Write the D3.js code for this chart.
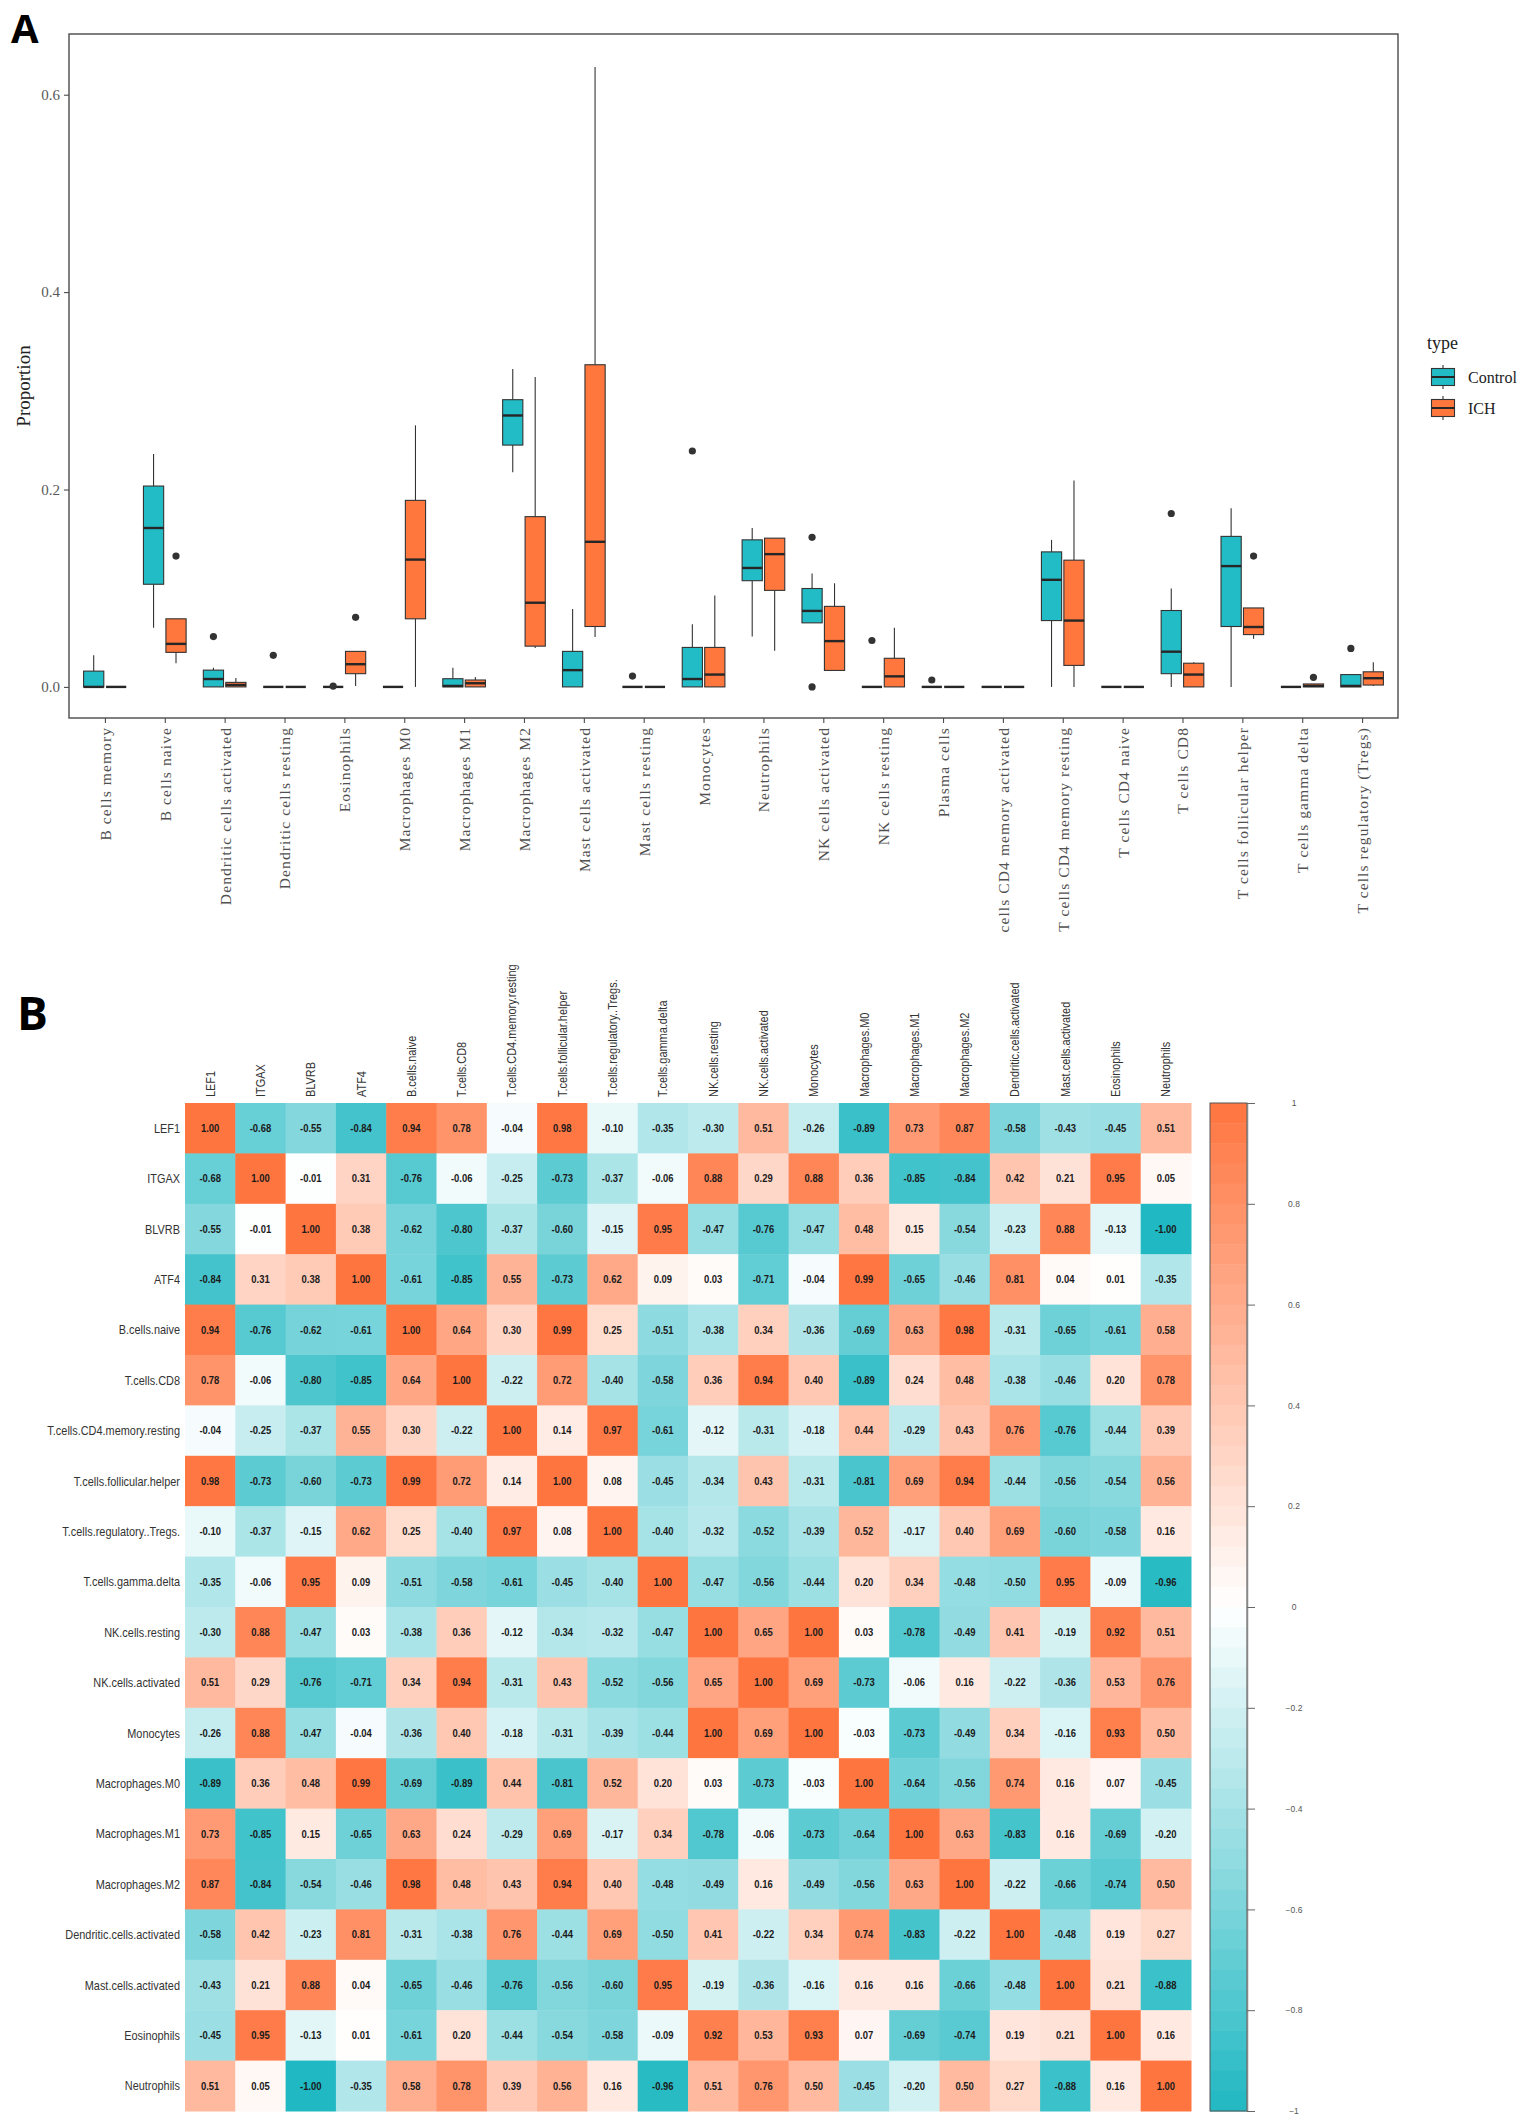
<!DOCTYPE html>
<html>
<head>
<meta charset="utf-8">
<script src="https://cdn.jsdelivr.net/npm/d3@7/dist/d3.min.js"></script>
<style>
  html, body { margin: 0; padding: 0; background: #fff; }
  svg { display: block; }
</style>
</head>
<body>
<svg id="chart" width="1535" height="2127"></svg>
<script>
// ---------------- Panel A data ----------------
const categories = [
  "B cells memory", "B cells naive", "Dendritic cells activated", "Dendritic cells resting",
  "Eosinophils", "Macrophages M0", "Macrophages M1", "Macrophages M2",
  "Mast cells activated", "Mast cells resting", "Monocytes", "Neutrophils",
  "NK cells activated", "NK cells resting", "Plasma cells", "cells CD4 memory activated",
  "T cells CD4 memory resting", "T cells CD4 naive", "T cells CD8", "T cells follicular helper",
  "T cells gamma delta", "T cells regulatory (Tregs)"
];
const groups = ["Control", "ICH"];
const groupColors = ["#22BCC6", "#FF773D"];
// [lower whisker, Q1, median, Q3, upper whisker]
const controlStats = [
  [0, 0, 0, 0.016, 0.032],
  [0.060, 0.104, 0.161, 0.2035, 0.236],
  [0, 0, 0.008, 0.017, 0.0195],
  [0, 0, 0, 0, 0],
  [0, 0, 0, 0, 0],
  [0, 0, 0, 0, 0],
  [0, 0, 0.001, 0.0083, 0.0195],
  [0.2175, 0.245, 0.275, 0.291, 0.322],
  [0, 0, 0.017, 0.036, 0.079],
  [0, 0, 0, 0, 0],
  [0, 0, 0.008, 0.040, 0.0635],
  [0.051, 0.1076, 0.1205, 0.149, 0.161],
  [0.0649, 0.0649, 0.077, 0.0997, 0.115],
  [0, 0, 0, 0, 0],
  [0, 0, 0, 0, 0],
  [0, 0, 0, 0, 0],
  [0, 0.0672, 0.1085, 0.1368, 0.149],
  [0, 0, 0, 0, 0],
  [0, 0.0134, 0.0357, 0.0774, 0.0997],
  [0, 0.0612, 0.1224, 0.1525, 0.181],
  [0, 0, 0, 0, 0],
  [0, 0, 0.001, 0.0125, 0.0125]
];
const ichStats = [
  [0, 0, 0, 0, 0],
  [0.024, 0.035, 0.0436, 0.069, 0.069],
  [0, 0, 0.002, 0.0046, 0.009],
  [0, 0, 0, 0, 0],
  [0.001, 0.0134, 0.023, 0.036, 0.036],
  [0, 0.069, 0.129, 0.189, 0.265],
  [0, 0, 0.0037, 0.007, 0.010],
  [0.0394, 0.0413, 0.0853, 0.1725, 0.314],
  [0.0505, 0.0612, 0.147, 0.3264, 0.628],
  [0, 0, 0, 0, 0],
  [0, 0, 0.0125, 0.040, 0.0927],
  [0.0366, 0.0978, 0.1345, 0.1507, 0.1507],
  [0.0167, 0.0167, 0.0464, 0.0816, 0.105],
  [0, 0, 0.0107, 0.029, 0.060],
  [0, 0, 0, 0, 0],
  [0, 0, 0, 0, 0],
  [0, 0.0218, 0.0672, 0.1284, 0.209],
  [0, 0, 0, 0, 0],
  [0, 0, 0.0125, 0.024, 0.025],
  [0.0487, 0.053, 0.0607, 0.080, 0.080],
  [0, 0, 0.001, 0.003, 0.003],
  [0.001, 0.0019, 0.0088, 0.0153, 0.025]
];
const controlOutliers = [
  [], [], [0.051], [0.032], [0.0008], [], [], [], [], [0.011], [0.239], [],
  [0.1516, 0], [0.047], [0.007], [], [], [], [0.1757], [], [], [0.039]
];
const ichOutliers = [
  [], [0.1326], [], [], [0.0705], [], [], [], [], [], [], [],
  [], [], [], [], [], [], [], [0.1326], [0.0097], []
];
const yTicks = [0.0, 0.2, 0.4, 0.6];

// ---------------- Panel B data ----------------
const corrNames = [
  "LEF1", "ITGAX", "BLVRB", "ATF4", "B.cells.naive", "T.cells.CD8",
  "T.cells.CD4.memory.resting", "T.cells.follicular.helper", "T.cells.regulatory..Tregs.",
  "T.cells.gamma.delta", "NK.cells.resting", "NK.cells.activated", "Monocytes",
  "Macrophages.M0", "Macrophages.M1", "Macrophages.M2", "Dendritic.cells.activated",
  "Mast.cells.activated", "Eosinophils", "Neutrophils"
];
const corrValues = [
  [1.00, -0.68, -0.55, -0.84, 0.94, 0.78, -0.04, 0.98, -0.10, -0.35, -0.30, 0.51, -0.26, -0.89, 0.73, 0.87, -0.58, -0.43, -0.45, 0.51],
  [-0.68, 1.00, -0.01, 0.31, -0.76, -0.06, -0.25, -0.73, -0.37, -0.06, 0.88, 0.29, 0.88, 0.36, -0.85, -0.84, 0.42, 0.21, 0.95, 0.05],
  [-0.55, -0.01, 1.00, 0.38, -0.62, -0.80, -0.37, -0.60, -0.15, 0.95, -0.47, -0.76, -0.47, 0.48, 0.15, -0.54, -0.23, 0.88, -0.13, -1.00],
  [-0.84, 0.31, 0.38, 1.00, -0.61, -0.85, 0.55, -0.73, 0.62, 0.09, 0.03, -0.71, -0.04, 0.99, -0.65, -0.46, 0.81, 0.04, 0.01, -0.35],
  [0.94, -0.76, -0.62, -0.61, 1.00, 0.64, 0.30, 0.99, 0.25, -0.51, -0.38, 0.34, -0.36, -0.69, 0.63, 0.98, -0.31, -0.65, -0.61, 0.58],
  [0.78, -0.06, -0.80, -0.85, 0.64, 1.00, -0.22, 0.72, -0.40, -0.58, 0.36, 0.94, 0.40, -0.89, 0.24, 0.48, -0.38, -0.46, 0.20, 0.78],
  [-0.04, -0.25, -0.37, 0.55, 0.30, -0.22, 1.00, 0.14, 0.97, -0.61, -0.12, -0.31, -0.18, 0.44, -0.29, 0.43, 0.76, -0.76, -0.44, 0.39],
  [0.98, -0.73, -0.60, -0.73, 0.99, 0.72, 0.14, 1.00, 0.08, -0.45, -0.34, 0.43, -0.31, -0.81, 0.69, 0.94, -0.44, -0.56, -0.54, 0.56],
  [-0.10, -0.37, -0.15, 0.62, 0.25, -0.40, 0.97, 0.08, 1.00, -0.40, -0.32, -0.52, -0.39, 0.52, -0.17, 0.40, 0.69, -0.60, -0.58, 0.16],
  [-0.35, -0.06, 0.95, 0.09, -0.51, -0.58, -0.61, -0.45, -0.40, 1.00, -0.47, -0.56, -0.44, 0.20, 0.34, -0.48, -0.50, 0.95, -0.09, -0.96],
  [-0.30, 0.88, -0.47, 0.03, -0.38, 0.36, -0.12, -0.34, -0.32, -0.47, 1.00, 0.65, 1.00, 0.03, -0.78, -0.49, 0.41, -0.19, 0.92, 0.51],
  [0.51, 0.29, -0.76, -0.71, 0.34, 0.94, -0.31, 0.43, -0.52, -0.56, 0.65, 1.00, 0.69, -0.73, -0.06, 0.16, -0.22, -0.36, 0.53, 0.76],
  [-0.26, 0.88, -0.47, -0.04, -0.36, 0.40, -0.18, -0.31, -0.39, -0.44, 1.00, 0.69, 1.00, -0.03, -0.73, -0.49, 0.34, -0.16, 0.93, 0.50],
  [-0.89, 0.36, 0.48, 0.99, -0.69, -0.89, 0.44, -0.81, 0.52, 0.20, 0.03, -0.73, -0.03, 1.00, -0.64, -0.56, 0.74, 0.16, 0.07, -0.45],
  [0.73, -0.85, 0.15, -0.65, 0.63, 0.24, -0.29, 0.69, -0.17, 0.34, -0.78, -0.06, -0.73, -0.64, 1.00, 0.63, -0.83, 0.16, -0.69, -0.20],
  [0.87, -0.84, -0.54, -0.46, 0.98, 0.48, 0.43, 0.94, 0.40, -0.48, -0.49, 0.16, -0.49, -0.56, 0.63, 1.00, -0.22, -0.66, -0.74, 0.50],
  [-0.58, 0.42, -0.23, 0.81, -0.31, -0.38, 0.76, -0.44, 0.69, -0.50, 0.41, -0.22, 0.34, 0.74, -0.83, -0.22, 1.00, -0.48, 0.19, 0.27],
  [-0.43, 0.21, 0.88, 0.04, -0.65, -0.46, -0.76, -0.56, -0.60, 0.95, -0.19, -0.36, -0.16, 0.16, 0.16, -0.66, -0.48, 1.00, 0.21, -0.88],
  [-0.45, 0.95, -0.13, 0.01, -0.61, 0.20, -0.44, -0.54, -0.58, -0.09, 0.92, 0.53, 0.93, 0.07, -0.69, -0.74, 0.19, 0.21, 1.00, 0.16],
  [0.51, 0.05, -1.00, -0.35, 0.58, 0.78, 0.39, 0.56, 0.16, -0.96, 0.51, 0.76, 0.50, -0.45, -0.20, 0.50, 0.27, -0.88, 0.16, 1.00]
];
const colorbarTicks = [1, 0.8, 0.6, 0.4, 0.2, 0, -0.2, -0.4, -0.6, -0.8, -1];
const colorStops = ["#20B8C2", "#FFFFFF", "#FF7540"];

// ---------------- Drawing ----------------
const svg = d3.select("#chart");
const SERIF = "'Liberation Serif','Times New Roman',serif";
const SANS = "'Liberation Sans',Arial,Helvetica,sans-serif";

// Panel letters
svg.append("text").attr("x", 11).attr("y", 43)
  .style("font-family", "'Open Sans',sans-serif").style("font-weight", 700)
  .style("font-size", "40px").text("A");
svg.append("text").attr("x", 17).attr("y", 1030)
  .style("font-family", "'Open Sans',sans-serif").style("font-weight", 700)
  .style("font-size", "46px").text("B");

// ---- Panel A: boxplots ----
const pA = { left: 69, right: 1398, top: 34, bottom: 718 };
const x = d3.scalePoint().domain(categories).range([pA.left, pA.right]).padding(0.6);
const y = d3.scaleLinear().domain([-0.0315, 0.6615]).range([pA.bottom, pA.top]);
const step = x.step();
const boxW = step * 0.375 * 0.9;
const dodge = step * 0.1875;

const gA = svg.append("g");
gA.append("rect").attr("x", pA.left).attr("y", pA.top)
  .attr("width", pA.right - pA.left).attr("height", pA.bottom - pA.top)
  .attr("fill", "#fff").attr("stroke", "#4a4a4a").attr("stroke-width", 1.4);

// y axis
const yAxis = gA.append("g").attr("transform", `translate(${pA.left},0)`)
  .call(d3.axisLeft(y).tickValues(yTicks).tickSize(5).tickSizeOuter(0).tickFormat(d3.format(".1f")));
yAxis.select(".domain").remove();
yAxis.selectAll("line").attr("stroke", "#4a4a4a").attr("stroke-width", 1.1);
yAxis.selectAll("text").attr("x", -9)
  .style("font-family", SERIF).style("font-size", "15px").attr("fill", "#595959");

gA.append("text")
  .attr("transform", `translate(30,${(pA.top + pA.bottom) / 2 + 10}) rotate(-90)`)
  .attr("text-anchor", "middle")
  .style("font-family", SERIF).style("font-size", "19px").attr("fill", "#222")
  .text("Proportion");

// x axis
const xAxis = gA.append("g").attr("transform", `translate(0,${pA.bottom})`)
  .call(d3.axisBottom(x).tickSize(5).tickSizeOuter(0));
xAxis.select(".domain").remove();
xAxis.selectAll("line").attr("stroke", "#4a4a4a").attr("stroke-width", 1.1);
xAxis.selectAll("text")
  .attr("transform", "rotate(-90)")
  .attr("x", -9).attr("y", 0).attr("dy", "0.35em")
  .attr("text-anchor", "end")
  .style("font-family", SERIF).style("font-size", "15.5px")
  .style("letter-spacing", "1.1px").attr("fill", "#505050");

// boxes
const statsByGroup = [controlStats, ichStats];
const outByGroup = [controlOutliers, ichOutliers];
const boxData = [];
categories.forEach((c, i) => {
  groups.forEach((g, gi) => {
    const s = statsByGroup[gi][i];
    boxData.push({ cat: c, gi, lo: s[0], q1: s[1], med: s[2], q3: s[3], hi: s[4], out: outByGroup[gi][i] });
  });
});
const boxes = gA.append("g").selectAll("g").data(boxData).join("g")
  .attr("transform", d => `translate(${x(d.cat) + (d.gi === 0 ? -dodge : dodge)},0)`);
boxes.append("line").attr("x1", 0).attr("x2", 0)
  .attr("y1", d => y(d.hi)).attr("y2", d => y(d.q3))
  .attr("stroke", "#333").attr("stroke-width", 1.1);
boxes.append("line").attr("x1", 0).attr("x2", 0)
  .attr("y1", d => y(d.q1)).attr("y2", d => y(d.lo))
  .attr("stroke", "#333").attr("stroke-width", 1.1);
boxes.append("rect")
  .attr("x", -boxW / 2).attr("width", boxW)
  .attr("y", d => y(d.q3)).attr("height", d => y(d.q1) - y(d.q3))
  .attr("fill", d => groupColors[d.gi]).attr("stroke", "#333").attr("stroke-width", 1.1);
boxes.append("line")
  .attr("x1", -boxW / 2).attr("x2", boxW / 2)
  .attr("y1", d => y(d.med)).attr("y2", d => y(d.med))
  .attr("stroke", "#262626").attr("stroke-width", 2.4);
boxes.selectAll("circle").data(d => d.out).join("circle")
  .attr("cx", 0).attr("cy", v => y(v)).attr("r", 3.6).attr("fill", "#333");

// legend
const leg = gA.append("g").attr("transform", "translate(1427,0)");
leg.append("text").attr("x", 0).attr("y", 349)
  .style("font-family", SERIF).style("font-size", "18px").attr("fill", "#222").text("type");
groups.forEach((g, gi) => {
  const cy = 377 + gi * 31;
  const k = leg.append("g").attr("transform", `translate(16,${cy})`);
  k.append("line").attr("x1", 0).attr("x2", 0).attr("y1", -12).attr("y2", 12)
    .attr("stroke", "#333").attr("stroke-width", 1.1);
  k.append("rect").attr("x", -11.5).attr("y", -8.5).attr("width", 23).attr("height", 17)
    .attr("fill", groupColors[gi]).attr("stroke", "#333").attr("stroke-width", 1.1);
  k.append("line").attr("x1", -11.5).attr("x2", 11.5).attr("y1", 0).attr("y2", 0)
    .attr("stroke", "#262626").attr("stroke-width", 2);
  leg.append("text").attr("x", 41).attr("y", cy).attr("dy", "0.35em")
    .style("font-family", SERIF).style("font-size", "16px").attr("fill", "#222").text(g);
});

// ---- Panel B: correlation heatmap ----
const pB = { left: 185, right: 1191, top: 1103, bottom: 2111 };
const hx = d3.scaleBand().domain(corrNames).range([pB.left, pB.right]);
const hy = d3.scaleBand().domain(corrNames).range([pB.top, pB.bottom]);
const color = d3.scaleLinear().domain([-1, 0, 1]).range(colorStops).interpolate(d3.interpolateRgb);

const cells = [];
corrValues.forEach((row, ri) => row.forEach((v, ci) => cells.push({ r: corrNames[ri], c: corrNames[ci], v })));
const gB = svg.append("g");
gB.selectAll("rect.cell").data(cells).join("rect").attr("class", "cell")
  .attr("x", d => hx(d.c)).attr("y", d => hy(d.r))
  .attr("width", hx.bandwidth() + 0.5).attr("height", hy.bandwidth() + 0.5)
  .attr("fill", d => color(d.v));
gB.selectAll("text.val").data(cells).join("text").attr("class", "val")
  .attr("transform", d => `translate(${hx(d.c) + hx.bandwidth() / 2},${hy(d.r) + hy.bandwidth() / 2}) scale(0.9,1)`)
  .attr("text-anchor", "middle").attr("dy", "0.36em")
  .style("font-family", SANS).style("font-weight", 700).style("font-size", "10.5px")
  .attr("fill", "#1a1a1a")
  .text(d => d.v.toFixed(2));

// row labels
gB.selectAll("text.rowlab").data(corrNames).join("text").attr("class", "rowlab")
  .attr("transform", d => `translate(${pB.left - 5},${hy(d) + hy.bandwidth() / 2}) scale(0.84,1)`)
  .attr("text-anchor", "end").attr("dy", "0.36em")
  .style("font-family", SANS).style("font-size", "13px").attr("fill", "#333")
  .text(d => d);
// column labels
gB.selectAll("text.collab").data(corrNames).join("text").attr("class", "collab")
  .attr("transform", d => `translate(${hx(d) + hx.bandwidth() / 2 + 4.5},${pB.top - 6}) rotate(-90) scale(0.84,1)`)
  .attr("text-anchor", "start")
  .style("font-family", SANS).style("font-size", "13px").attr("fill", "#333")
  .text(d => d);

// colour bar
const cb = { left: 1210, right: 1247 };
const cbScale = d3.scaleLinear().domain([1, -1]).range([pB.top, pB.bottom]);
const nBands = 50;
const bandVals = d3.range(nBands).map(i => 1 - (i + 0.5) * 2 / nBands);
gB.selectAll("rect.cbband").data(bandVals).join("rect").attr("class", "cbband")
  .attr("x", cb.left).attr("width", cb.right - cb.left)
  .attr("y", v => cbScale(v + 1 / nBands)).attr("height", (pB.bottom - pB.top) / nBands + 0.5)
  .attr("fill", v => color(v));
gB.append("rect").attr("x", cb.left).attr("y", pB.top)
  .attr("width", cb.right - cb.left).attr("height", pB.bottom - pB.top)
  .attr("fill", "none").attr("stroke", "#555").attr("stroke-width", 1);
const cbAxis = gB.append("g").attr("transform", `translate(${cb.right},0)`)
  .call(d3.axisRight(cbScale).tickValues(colorbarTicks).tickSize(8).tickSizeOuter(0)
    .tickFormat(d => d3.format("")(d).replace("-", "\u2212")));
cbAxis.select(".domain").attr("stroke", "#888").attr("stroke-width", 1.5);
cbAxis.selectAll("line").attr("stroke", "#666");
cbAxis.selectAll("text").attr("x", 47).attr("text-anchor", "middle")
  .style("font-family", SANS).style("font-size", "8.5px").attr("fill", "#555");
</script>
</body>
</html>
